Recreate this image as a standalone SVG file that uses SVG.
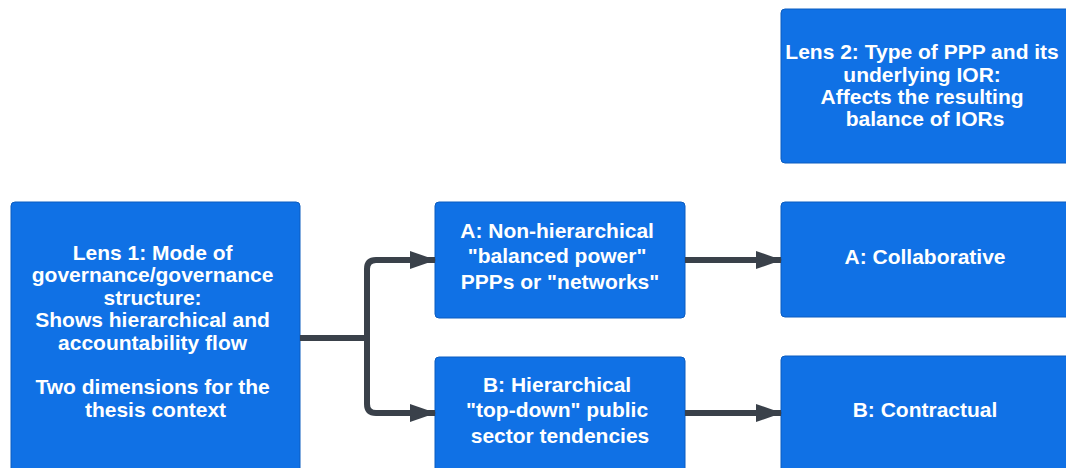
<svg xmlns="http://www.w3.org/2000/svg" width="1066" height="468" viewBox="0 0 1066 468">
  <style>
    .box { fill: #1071E5; stroke: #0b5cc0; stroke-width: 1; }
    .label { font-family: "Liberation Sans", Arial, sans-serif; font-weight: bold; font-size: 21px; fill: #ffffff; text-anchor: middle; }
    .wire { fill: none; stroke: #3A414A; stroke-width: 6; stroke-linejoin: round; }
  </style>
  <defs>
    <marker id="arrow" viewBox="0 0 26 18" refX="25" refY="9" markerWidth="26" markerHeight="18" markerUnits="userSpaceOnUse" orient="auto">
      <path d="M0,0 L26,9 L0,18 Z" fill="#3A414A"/>
    </marker>
  </defs>
  <rect width="1066" height="468" fill="#ffffff"/>

  <g id="lens1">
    <rect class="box" x="11" y="202" width="289" height="280" rx="4"/>
    <text class="label">
      <tspan x="155.5" y="260">Lens 1: Mode of</tspan>
      <tspan x="155.5" y="282.4">governance/governance</tspan>
      <tspan x="155.5" y="304.8">structure:</tspan>
      <tspan x="155.5" y="327.2">Shows hierarchical and</tspan>
      <tspan x="155.5" y="349.6">accountability flow</tspan>
      <tspan x="155.5" y="394.4">Two dimensions for the</tspan>
      <tspan x="155.5" y="416.8">thesis context</tspan>
    </text>
  </g>

  <g id="type-a">
    <rect class="box" x="435" y="202" width="250" height="116" rx="4"/>
    <text class="label">
      <tspan x="560" y="238">A: Non-hierarchical</tspan>
      <tspan x="560" y="263.3">"balanced power"</tspan>
      <tspan x="560" y="288.6">PPPs or "networks"</tspan>
    </text>
  </g>

  <g id="type-b">
    <rect class="box" x="435" y="357" width="250" height="125" rx="4"/>
    <text class="label">
      <tspan x="560" y="391.7">B: Hierarchical</tspan>
      <tspan x="560" y="417.2">"top-down" public</tspan>
      <tspan x="560" y="442.7">sector tendencies</tspan>
    </text>
  </g>

  <g id="lens2">
    <rect class="box" x="781" y="9" width="295" height="154" rx="4"/>
    <text class="label">
      <tspan x="925" y="59.3">Lens 2: Type of PPP and its</tspan>
      <tspan x="925" y="81.5">underlying IOR:</tspan>
      <tspan x="925" y="103.7">Affects the resulting</tspan>
      <tspan x="925" y="125.9">balance of IORs</tspan>
    </text>
  </g>

  <g id="collaborative">
    <rect class="box" x="781" y="202" width="295" height="115" rx="4"/>
    <text class="label" x="925" y="264">A: Collaborative</text>
  </g>

  <g id="contractual">
    <rect class="box" x="781" y="356" width="295" height="126" rx="4"/>
    <text class="label" x="925" y="417">B: Contractual</text>
  </g>

  <g id="connectors">
    <path class="wire" d="M300,338 H367" />
    <path class="wire" d="M367,338 V269 Q367,260 376,260 H435" marker-end="url(#arrow)"/>
    <path class="wire" d="M367,338 V404 Q367,413 376,413 H435" marker-end="url(#arrow)"/>
    <path class="wire" d="M685,260 H781" marker-end="url(#arrow)"/>
    <path class="wire" d="M685,413 H781" marker-end="url(#arrow)"/>
  </g>
</svg>
